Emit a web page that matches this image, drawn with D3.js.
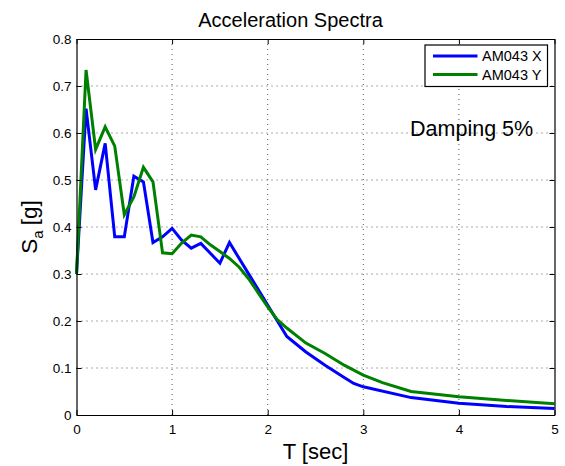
<!DOCTYPE html>
<html>
<head>
<meta charset="utf-8">
<script src="https://cdn.jsdelivr.net/npm/d3@7"></script>
<style>
  body { margin: 0; background: #fff; }
  svg { font-family: "Liberation Sans", Arial, sans-serif; }
</style>
</head>
<body>
<div id="chart"></div>
<script>
// periods (sec)
const periodsX = [0, 0.1, 0.2, 0.3, 0.4, 0.5, 0.6, 0.7, 0.8, 0.9, 1.0, 1.1, 1.2, 1.3, 1.4, 1.5, 1.6,
                  2.2, 2.4, 2.6, 2.8, 2.9, 3.0, 3.5, 4.0, 4.5, 5.0]
const sagX = [0.30, 0.652, 0.479, 0.578, 0.379, 0.379, 0.508, 0.496, 0.367, 0.379, 0.397, 0.372, 0.355, 0.365, 0.344, 0.323, 0.367,
              0.167, 0.134, 0.106, 0.080, 0.067, 0.060, 0.037, 0.025, 0.018, 0.014]

const periodsY = [0, 0.1, 0.2, 0.3, 0.4, 0.5, 0.6, 0.7, 0.8, 0.9, 1.0, 1.1, 1.2, 1.3, 1.4, 1.5, 1.6,
                  1.7, 1.8, 1.9, 2.0, 2.1, 2.2, 2.4, 2.6, 2.8, 3.0, 3.2, 3.5, 4.0, 4.5, 5.0]
const sagY = [0.30, 0.734, 0.565, 0.613, 0.572, 0.426, 0.464, 0.527, 0.496, 0.345, 0.343, 0.366, 0.383, 0.379, 0.362, 0.348, 0.333,
              0.315, 0.290, 0.260, 0.230, 0.203, 0.185, 0.153, 0.131, 0.106, 0.085, 0.069, 0.050, 0.039, 0.031, 0.024]

const xTicks = [0, 1, 2, 3, 4, 5]
const yTicks = [0, 0.1, 0.2, 0.3, 0.4, 0.5, 0.6, 0.7, 0.8]
const seriesNames = ['AM043 X', 'AM043 Y']
const colors = ['#0000ff', '#008000']

const width = 565, height = 466
const margin = { left: 76.5, right: 10.5, top: 39, bottom: 51 }
const w = width - margin.left - margin.right
const h = height - margin.top - margin.bottom

const svg = d3.select('#chart').append('svg')
  .attr('width', width)
  .attr('height', height)

const x = d3.scaleLinear().domain([0, 5]).range([0, w])
const y = d3.scaleLinear().domain([0, 0.8]).range([h, 0])

const g = svg.append('g').attr('transform', `translate(${margin.left},${margin.top})`)

// grid (dotted)
g.append('g').selectAll('line')
  .data(xTicks.slice(1, -1))
  .enter().append('line')
    .attr('x1', d => x(d)).attr('x2', d => x(d))
    .attr('y1', 0).attr('y2', h)
    .attr('stroke', '#555').attr('stroke-width', 1)
    .attr('stroke-dasharray', '1,4')
g.append('g').selectAll('line')
  .data(yTicks.slice(1, -1))
  .enter().append('line')
    .attr('x1', 0).attr('x2', w)
    .attr('y1', d => y(d)).attr('y2', d => y(d))
    .attr('stroke', '#555').attr('stroke-width', 1)
    .attr('stroke-dasharray', '1,4')

// data lines
const line = d3.line().x(d => x(d[0])).y(d => y(d[1]))
const data = [
  d3.zip(periodsX, sagX),
  d3.zip(periodsY, sagY)
]
data.forEach((d, i) => {
  g.append('path')
    .datum(d)
    .attr('d', line)
    .attr('fill', 'none')
    .attr('stroke', colors[i])
    .attr('stroke-width', 3)
    .attr('stroke-linejoin', 'miter')
})

// axes (ticks inside, MATLAB box style)
g.append('g').attr('transform', `translate(0,${h})`)
  .call(d3.axisBottom(x).tickValues(xTicks).tickSizeInner(-5).tickSizeOuter(0).tickPadding(9).tickFormat(d3.format('d')))
g.append('g')
  .call(d3.axisLeft(y).tickValues(yTicks).tickSizeInner(-5).tickSizeOuter(0).tickPadding(5).tickFormat(d => d === 0 ? '0' : d3.format('.1f')(d)))
g.append('g')
  .call(d3.axisTop(x).tickValues(xTicks).tickSizeInner(-5).tickSizeOuter(0).tickFormat(''))
g.append('g').attr('transform', `translate(${w},0)`)
  .call(d3.axisRight(y).tickValues(yTicks).tickSizeInner(-5).tickSizeOuter(0).tickFormat(''))

svg.selectAll('.domain').attr('stroke', '#000').attr('stroke-width', 1.2)
svg.selectAll('.tick line').attr('stroke', '#000')
svg.selectAll('.tick text').attr('font-size', 13.5).attr('fill', '#000')
  .attr('font-family', '"Liberation Sans", Arial, sans-serif')

// title and labels
svg.append('text')
  .attr('x', margin.left + w / 2 - 25).attr('y', 27)
  .attr('text-anchor', 'middle').attr('font-size', 20)
  .text('Acceleration Spectra')

svg.append('text')
  .attr('x', margin.left + w / 2).attr('y', 459)
  .attr('text-anchor', 'middle').attr('font-size', 22)
  .text('T [sec]')

const yl = svg.append('text')
  .attr('transform', `translate(37,${margin.top + h / 2}) rotate(-90)`)
  .attr('text-anchor', 'middle').attr('font-size', 22.5)
yl.append('tspan').text('S')
yl.append('tspan').attr('font-size', 15).attr('dy', 6).text('a')
yl.append('tspan').attr('dy', -6).attr('dx', 5).text('[g]')

g.append('text')
  .attr('x', x(3.5) - 1).attr('y', y(0.6) + 3)
  .attr('font-size', 21.5)
  .text('Damping 5%')

// legend
const legend = svg.append('g').attr('transform', 'translate(425,45)')
legend.append('rect')
  .attr('width', 122.5).attr('height', 41.5)
  .attr('fill', '#fff').attr('stroke', '#000').attr('stroke-width', 1.2)
seriesNames.forEach((name, i) => {
  legend.append('line')
    .attr('x1', 8).attr('x2', 52.5)
    .attr('y1', 11 + i * 18.5).attr('y2', 11 + i * 18.5)
    .attr('stroke', colors[i]).attr('stroke-width', 3)
  legend.append('text')
    .attr('x', 57).attr('y', 16 + i * 18.5)
    .attr('font-size', 14.5)
    .text(name)
})
</script>
</body>
</html>
